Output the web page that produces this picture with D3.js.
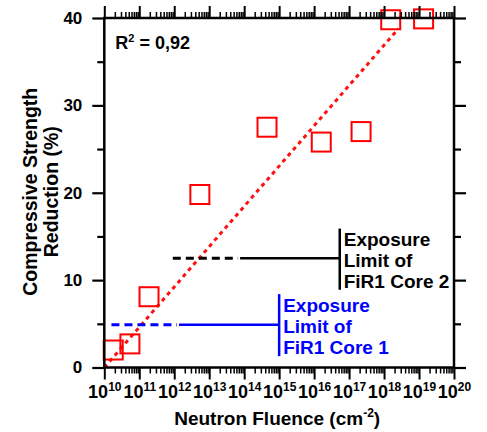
<!DOCTYPE html>
<html>
<head>
<meta charset="utf-8">
<script src="https://cdn.jsdelivr.net/npm/d3@7"></script>
<style>
  html, body { margin: 0; padding: 0; background: #fff; }
  svg { display: block; font-family: "Liberation Sans", Arial, sans-serif; font-weight: bold; }
</style>
</head>
<body>
<svg id="chart" width="487" height="432"></svg>
<script>
// ---- data ----
const fluence = [1.8e10, 5.4e10, 1.9e11, 5.4e12, 4.5e14, 1.6e16, 2.2e17, 1.55e18, 1.35e19];
const reduction = [2.0, 2.7, 8.1, 19.8, 27.5, 25.8, 27.0, 39.8, 39.9];

const fitFluence = [1e10, 2.6e18];
const fitReduction = [0, 38.8];

// exposure limits: level, dashed range, solid range, bar position & extent
const limitNames = ["core2", "core1"];
const limitLevels = [12.5, 4.9];
const limitDashFrom = [9.1e11, 1.6e10];
const limitDashTo = [6.7e13, 1.2e12];
const limitSolidTo = [5.4e16, 1e15];
const limitBarLow = [8.9, 1.3];
const limitBarHigh = [15.9, 8.4];
const limitColors = ["#000000", "#0000ff"];
const limitLabels = [["Exposure", "Limit of", "FiR1 Core 2"], ["Exposure", "Limit of", "FiR1 Core 1"]];

const yMajor = [0, 10, 20, 30, 40];
const yMinor = [5, 15, 25, 35];
const xExponents = [10, 11, 12, 13, 14, 15, 16, 17, 18, 19, 20];

const rSquaredText = "0,92";
const xTitle = "Neutron Fluence (cm";
const yTitle = ["Compressive Strength", "Reduction (%)"];

// ---- layout ----
const W = 487, H = 432;
const margin = { left: 104.3, right: 33, top: 18, bottom: 64.5 };
const svg = d3.select("#chart");

const x = d3.scaleLog().domain([1e10, 1e20]).range([margin.left, W - margin.right]);
const y = d3.scaleLinear().domain([0, 40]).range([H - margin.bottom, margin.top]);

const majorX = xExponents.map(e => Math.pow(10, e));
const minorX = [];
for (let e = 10; e < 20; e++) for (let m = 2; m <= 9; m++) minorX.push(m * Math.pow(10, e));

// ---- fit line ----
svg.append("path")
  .datum(fitFluence.map((f, i) => [f, fitReduction[i]]))
  .attr("d", d3.line().x(d => x(d[0])).y(d => y(d[1])))
  .attr("fill", "none").attr("stroke", "#ff1010").attr("stroke-width", 3)
  .attr("stroke-dasharray", "4,4");

// ---- exposure limits ----
limitNames.forEach((n, i) => {
  const g = svg.append("g");
  const col = limitColors[i];
  g.append("line")
    .attr("x1", x(limitDashFrom[i])).attr("x2", x(limitDashTo[i]))
    .attr("y1", y(limitLevels[i])).attr("y2", y(limitLevels[i]))
    .attr("stroke", col).attr("stroke-width", 3).attr("stroke-dasharray", "8,5");
  g.append("line")
    .attr("x1", x(limitDashTo[i]) + 2).attr("x2", x(limitSolidTo[i]))
    .attr("y1", y(limitLevels[i])).attr("y2", y(limitLevels[i]))
    .attr("stroke", col).attr("stroke-width", 2.5);
  g.append("line")
    .attr("x1", x(limitSolidTo[i])).attr("x2", x(limitSolidTo[i]))
    .attr("y1", y(limitBarLow[i])).attr("y2", y(limitBarHigh[i]))
    .attr("stroke", col).attr("stroke-width", 2.5);
  const t = g.append("text")
    .attr("x", x(limitSolidTo[i]) + 4)
    .attr("y", y(limitLevels[i]) - 12.5)
    .attr("fill", col).attr("font-size", 19);
  limitLabels[i].forEach((s, k) => {
    t.append("tspan").attr("x", x(limitSolidTo[i]) + 4)
      .attr("dy", k === 0 ? 0 : 21).text(s);
  });
});

// ---- squares ----
const sz = 19;
svg.append("g").selectAll("rect")
  .data(fluence.map((f, i) => [f, reduction[i]]))
  .join("rect")
  .attr("x", d => x(d[0]) - sz / 2).attr("y", d => y(d[1]) - sz / 2)
  .attr("width", sz).attr("height", sz)
  .attr("fill", "none").attr("stroke", "#ff0000").attr("stroke-width", 2);

// ---- axes ----
function styleAxis(g, w) {
  g.select(".domain").remove();
  g.selectAll(".tick line").attr("stroke", "#000").attr("stroke-width", w);
}
const yb = H - margin.bottom, yt = margin.top, xl = margin.left, xr = W - margin.right;

// left
svg.append("g").attr("transform", `translate(${xl},0)`)
  .call(d3.axisLeft(y).tickValues(yMajor).tickSize(12).tickPadding(10).tickFormat(d3.format("d")))
  .call(g => { styleAxis(g, 2.2); g.selectAll("text").attr("font-size", 17).attr("font-family", "Liberation Sans, Arial").attr("font-weight", "bold").attr("fill", "#000"); });
svg.append("g").attr("transform", `translate(${xl},0)`)
  .call(d3.axisLeft(y).tickValues(yMinor).tickSize(7).tickFormat(""))
  .call(g => styleAxis(g, 2.2));
// right
svg.append("g").attr("transform", `translate(${xr},0)`)
  .call(d3.axisRight(y).tickValues(yMajor).tickSize(12).tickFormat(""))
  .call(g => styleAxis(g, 2.2));
svg.append("g").attr("transform", `translate(${xr},0)`)
  .call(d3.axisRight(y).tickValues(yMinor).tickSize(7).tickFormat(""))
  .call(g => styleAxis(g, 2.2));
// top
svg.append("g").attr("transform", `translate(0,${yt})`)
  .call(d3.axisTop(x).tickValues(majorX).tickSize(12).tickFormat(""))
  .call(g => styleAxis(g, 2));
svg.append("g").attr("transform", `translate(0,${yt})`)
  .call(d3.axisTop(x).tickValues(minorX).tickSize(6).tickFormat(""))
  .call(g => styleAxis(g, 1.5));
// bottom
const bottomAxis = svg.append("g").attr("transform", `translate(0,${yb})`)
  .call(d3.axisBottom(x).tickValues(majorX).tickSize(12).tickFormat(""))
  .call(g => styleAxis(g, 2));
svg.append("g").attr("transform", `translate(0,${yb})`)
  .call(d3.axisBottom(x).tickValues(minorX).tickSize(6).tickFormat(""))
  .call(g => styleAxis(g, 1.5));

// bottom labels 10^n
bottomAxis.selectAll(".tick").each(function(d, i) {
  const t = d3.select(this).append("text")
    .attr("y", 30.5).attr("text-anchor", "middle").attr("fill", "#000")
    .attr("font-size", 18);
  t.append("tspan").text("10");
  t.append("tspan").attr("font-size", 12).attr("dy", -7).text(String(xExponents[i]));
});

// frame
svg.append("rect")
  .attr("x", xl).attr("y", yt).attr("width", xr - xl).attr("height", yb - yt)
  .attr("fill", "none").attr("stroke", "#000").attr("stroke-width", 2.5);

// R^2
const rt = svg.append("text").attr("x", xl + 11).attr("y", yt + 31).attr("font-size", 18).attr("fill", "#000");
rt.append("tspan").text("R");
rt.append("tspan").attr("font-size", 11).attr("dy", -7).text("2");
rt.append("tspan").attr("dy", 7).text(" = " + rSquaredText);

// x title
const xt = svg.append("text").attr("x", (xl + xr) / 2 - 2).attr("y", 425)
  .attr("text-anchor", "middle").attr("font-size", 19).attr("fill", "#000");
xt.append("tspan").text(xTitle);
xt.append("tspan").attr("font-size", 12).attr("dy", -8).text("-2");
xt.append("tspan").attr("dy", 8).text(")");

// y title
const cy = (yt + yb) / 2 - 1;
yTitle.forEach((s, i) => {
  svg.append("text")
    .attr("transform", `translate(${i === 0 ? 37 : 58},${cy}) rotate(-90)`)
    .attr("text-anchor", "middle").attr("font-size", 19.5).attr("fill", "#000")
    .text(s);
});
</script>
</body>
</html>
